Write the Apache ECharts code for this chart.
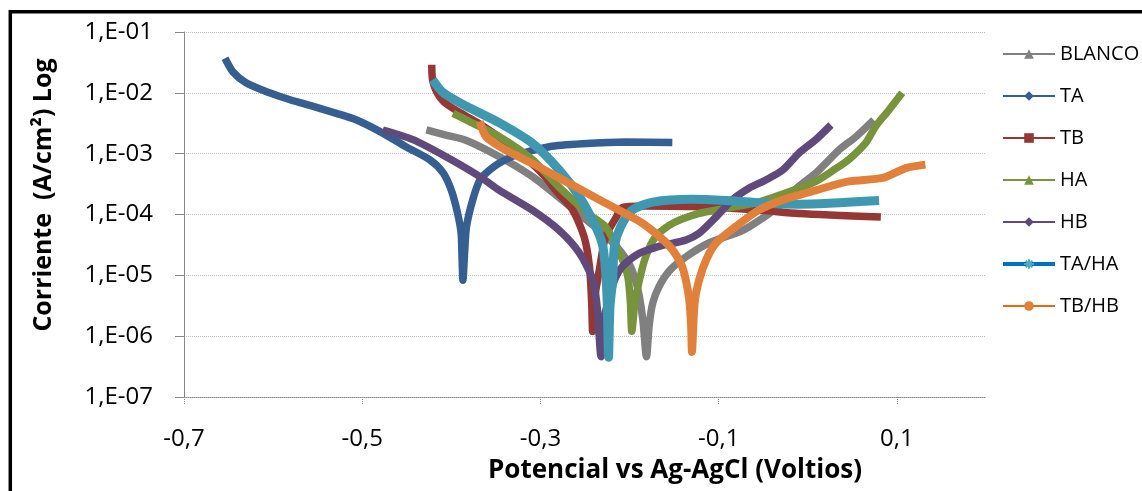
<!DOCTYPE html>
<html>
<head>
<meta charset="utf-8">
<script src="https://cdn.jsdelivr.net/npm/echarts@6/dist/echarts.min.js"></script>
<style>
  html, body { margin: 0; padding: 0; background: #fff; }
  #chart { width: 1142px; height: 491px; }
</style>
</head>
<body>
<div id="chart"></div>
<script>
// potential (V vs Ag-AgCl), current density (A/cm2)
const blanco = [
  [-0.428, 2.45e-3], [-0.405, 2.0e-3], [-0.383, 1.65e-3], [-0.346, 8.9e-4], [-0.309, 4.2e-4],
  [-0.279, 1.9e-4], [-0.256, 1.0e-4], [-0.234, 5.5e-5], [-0.215, 3.0e-5], [-0.200, 1.5e-5],
  [-0.193, 8e-6], [-0.189, 4.5e-6], [-0.185, 1.8e-6], [-0.181, 4.6e-7], [-0.178, 1.5e-6],
  [-0.174, 3.5e-6], [-0.167, 6.5e-6], [-0.155, 1.2e-5], [-0.137, 2.0e-5], [-0.111, 3.4e-5],
  [-0.073, 5.5e-5], [-0.047, 9.5e-5], [-0.028, 1.55e-4], [-0.010, 2.9e-4], [0.009, 4.8e-4],
  [0.035, 1.15e-3], [0.054, 1.9e-3], [0.074, 3.6e-3]
]
const ta = [
  [-0.654, 3.7e-2], [-0.645, 2.2e-2], [-0.630, 1.45e-2], [-0.604, 1.0e-2], [-0.581, 7.7e-3],
  [-0.555, 6.0e-3], [-0.529, 4.6e-3], [-0.507, 3.6e-3], [-0.480, 2.3e-3], [-0.451, 1.3e-3],
  [-0.424, 7.9e-4], [-0.409, 4.8e-4], [-0.400, 2.5e-4], [-0.393, 1.05e-4], [-0.389, 4.9e-5],
  [-0.388, 2.0e-5], [-0.387, 8.3e-6], [-0.385, 2.5e-5], [-0.383, 6.3e-5], [-0.376, 1.74e-4],
  [-0.368, 3.7e-4], [-0.361, 4.8e-4], [-0.346, 7.0e-4], [-0.327, 9.5e-4], [-0.290, 1.3e-3],
  [-0.253, 1.45e-3], [-0.204, 1.55e-3], [-0.152, 1.52e-3]
]
const tb = [
  [-0.422, 2.9e-2], [-0.421, 1.6e-2], [-0.416, 1.0e-2], [-0.408, 7.0e-3], [-0.392, 4.9e-3],
  [-0.370, 3.2e-3], [-0.340, 1.6e-3], [-0.310, 7.0e-4], [-0.295, 4.2e-4], [-0.283, 2.5e-4],
  [-0.264, 1.2e-4], [-0.251, 4.3e-5], [-0.245, 1.4e-5], [-0.2425, 3.5e-6], [-0.2415, 1.2e-6],
  [-0.240, 3.5e-6], [-0.234, 1.2e-5], [-0.227, 4.3e-5], [-0.215, 9.0e-5], [-0.208, 1.3e-4],
  [-0.185, 1.38e-4], [-0.130, 1.35e-4], [-0.055, 1.18e-4], [-0.010, 1.04e-4], [0.082, 9.1e-5]
]
const ha = [
  [-0.398, 4.6e-3], [-0.380, 3.4e-3], [-0.346, 1.9e-3], [-0.309, 8.0e-4], [-0.279, 2.8e-4],
  [-0.245, 1.0e-4], [-0.227, 6.3e-5], [-0.211, 2.3e-5], [-0.202, 9.6e-6], [-0.199, 3.5e-6],
  [-0.1975, 1.2e-6], [-0.194, 3.5e-6], [-0.189, 8.3e-6], [-0.182, 2.0e-5], [-0.171, 4.3e-5],
  [-0.152, 7.1e-5], [-0.122, 1.04e-4], [-0.092, 1.26e-4], [-0.055, 1.6e-4], [-0.010, 2.7e-4],
  [0.009, 3.5e-4], [0.030, 5.5e-4], [0.046, 8.0e-4], [0.065, 1.5e-3], [0.076, 2.8e-3],
  [0.091, 5.2e-3], [0.106, 1.0e-2]
]
const hb = [
  [-0.477, 2.45e-3], [-0.443, 1.7e-3], [-0.406, 8.9e-4], [-0.368, 4.2e-4], [-0.346, 2.5e-4],
  [-0.309, 1.18e-4], [-0.279, 5.5e-5], [-0.256, 2.3e-5], [-0.241, 8.3e-6], [-0.236, 2.7e-6],
  [-0.232, 4.6e-7], [-0.227, 2.5e-6], [-0.221, 5.0e-6], [-0.217, 8.3e-6], [-0.208, 1.4e-5],
  [-0.189, 2.3e-5], [-0.167, 3.0e-5], [-0.137, 3.8e-5], [-0.122, 4.9e-5], [-0.103, 9.1e-5],
  [-0.085, 1.73e-4], [-0.066, 2.7e-4], [-0.047, 3.7e-4], [-0.028, 5.4e-4], [-0.010, 1.02e-3],
  [0.009, 1.7e-3], [0.026, 2.96e-3]
]
const taha = [
  [-0.421, 1.64e-2], [-0.409, 1.0e-2], [-0.383, 6.0e-3], [-0.346, 3.2e-3], [-0.309, 1.48e-3],
  [-0.279, 5.4e-4], [-0.256, 1.95e-4], [-0.238, 6.3e-5], [-0.230, 3.0e-5], [-0.227, 1.2e-5],
  [-0.225, 3.5e-6], [-0.2236, 4.5e-7], [-0.222, 3.0e-6], [-0.219, 8.3e-6], [-0.217, 3.0e-5],
  [-0.210, 6.3e-5], [-0.197, 1.18e-4], [-0.174, 1.6e-4], [-0.130, 1.78e-4], [-0.092, 1.7e-4],
  [-0.036, 1.5e-4], [-0.010, 1.48e-4], [0.080, 1.7e-4]
]
const tbhb = [
  [-0.368, 3.4e-3], [-0.361, 1.9e-3], [-0.339, 1.15e-3], [-0.309, 6.9e-4], [-0.279, 4.0e-4],
  [-0.234, 1.75e-4], [-0.185, 7.1e-5], [-0.155, 3.0e-5], [-0.141, 1.4e-5], [-0.1335, 4.5e-6],
  [-0.131, 1.6e-6], [-0.130, 5.5e-7], [-0.127, 3.5e-6], [-0.122, 8.3e-6], [-0.114, 1.8e-5],
  [-0.103, 3.4e-5], [-0.081, 6.3e-5], [-0.055, 1.18e-4], [-0.028, 1.74e-4], [0.009, 2.5e-4],
  [0.046, 3.5e-4], [0.084, 4.0e-4], [0.110, 5.8e-4], [0.132, 6.6e-4]
]

const xTicks = [-0.7, -0.5, -0.3, -0.1, 0.1]
const yTicks = [1e-7, 1e-6, 1e-5, 1e-4, 1e-3, 1e-2, 1e-1]

const font = 'Open Sans'
const star = 'path://M5,0 L5,10 M0,5 L10,5 M1.5,1.5 L8.5,8.5 M8.5,1.5 L1.5,8.5'

function serie (name, data, line, mark, symbol, width) {
  return {
    name: name,
    type: 'line',
    data: data,
    showSymbol: false,
    symbol: symbol,
    symbolSize: 10,
    smooth: 0.25,
    lineStyle: { width: width, color: line },
    itemStyle: { color: mark }
  }
}

var myChart = echarts.init(document.getElementById('chart'))
var option = {
  backgroundColor: '#fff',
  animation: false,
  textStyle: { fontFamily: font },
  grid: { left: 184, top: 32, right: 156, bottom: 94 },
  graphic: [
    {
      type: 'rect',
      shape: { x: 10.3, y: 11.7, width: 1200, height: 600 },
      style: { fill: 'none', stroke: '#000', lineWidth: 3.5 },
      silent: true
    },
    {
      type: 'text',
      x: 675,
      y: 471,
      style: {
        text: 'Potencial vs Ag-AgCl (Voltios)',
        font: 'bold 26px "Open Sans"',
        fill: '#000',
        align: 'center',
        verticalAlign: 'middle'
      }
    },
    {
      type: 'text',
      x: 44,
      y: 195,
      rotation: Math.PI / 2,
      style: {
        text: 'Corriente  (A/cm²) Log',
        font: 'bold 25px "Open Sans"',
        fill: '#000',
        align: 'center',
        verticalAlign: 'middle'
      }
    }
  ],
  legend: {
    orient: 'vertical',
    left: 996,
    top: 39,
    itemWidth: 52,
    itemHeight: 12,
    itemGap: 22,
    textStyle: { fontSize: 20, color: '#000', fontFamily: font },
    data: [
      'BLANCO', 'TA', 'TB', 'HA', 'HB',
      {
        name: 'TA/HA',
        lineStyle: { color: '#0070c0', width: 4 },
        itemStyle: { color: '#4bacc6', borderColor: '#4bacc6', borderWidth: 2 }
      },
      { name: 'TB/HB', lineStyle: { color: '#e46c0a' }, itemStyle: { color: '#e08039' } }
    ]
  },
  xAxis: {
    type: 'value',
    min: -0.7,
    max: 0.2,
    splitLine: { show: false },
    axisLine: { lineStyle: { color: '#868686', type: 'dotted', width: 1 } },
    axisTick: {
      customValues: xTicks,
      length: 8,
      lineStyle: { color: '#868686', type: 'dotted' }
    },
    axisLabel: {
      customValues: xTicks,
      margin: 30,
      fontSize: 24,
      color: '#000',
      formatter: v => v.toFixed(1).replace('.', ',')
    }
  },
  yAxis: {
    type: 'log',
    logBase: 10,
    min: 1e-7,
    max: 1e-1,
    axisLine: { show: true, onZero: false, lineStyle: { color: '#868686', width: 1 } },
    axisTick: { show: true, customValues: yTicks, length: 9, lineStyle: { color: '#868686' } },
    axisLabel: {
      customValues: yTicks,
      margin: 31,
      fontSize: 24,
      color: '#000',
      formatter: v => '1,E-0' + Math.round(-Math.log10(v))
    },
    splitLine: { show: true, lineStyle: { color: '#bfbfbf', type: 'dotted', width: 1 } }
  },
  series: [
    serie('BLANCO', blanco, '#808080', '#808080', 'triangle', 7.5),
    serie('TA', ta, '#365f91', '#365f91', 'diamond', 7.5),
    serie('TB', tb, '#953735', '#953735', 'rect', 7.5),
    serie('HA', ha, '#77933c', '#77933c', 'triangle', 7.5),
    serie('HB', hb, '#604a7b', '#604a7b', 'diamond', 7.5),
    serie('TA/HA', taha, '#3f98b0', '#4bacc6', star, 9),
    serie('TB/HB', tbhb, '#e0803a', '#e08039', 'circle', 8)
  ]
}
myChart.setOption(option)
</script>
</body>
</html>
